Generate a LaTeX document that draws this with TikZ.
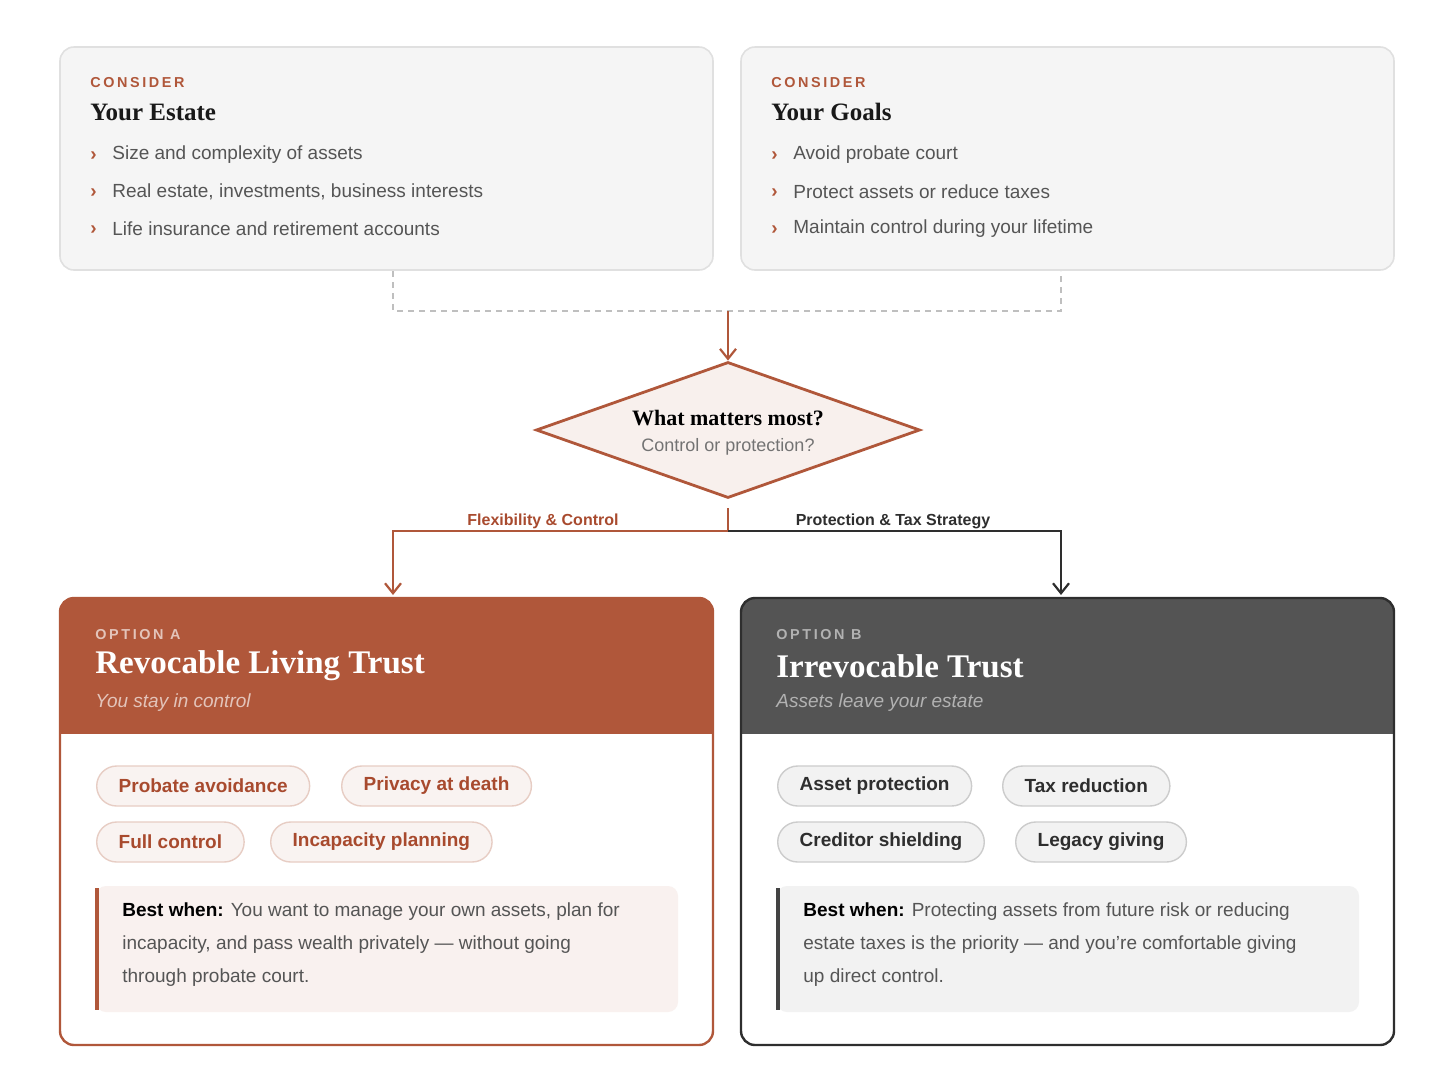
\documentclass[tikz,border=0pt]{standalone}
\usepackage{fontspec}
\setmainfont{Liberation Sans}
\newfontfamily\serifb{Liberation Serif}
\usetikzlibrary{shapes.geometric,arrows.meta}
\definecolor{rust}{HTML}{B0573A}
\definecolor{rustd}{HTML}{A84A2E}
\definecolor{dgray}{HTML}{545454}
\definecolor{ink}{HTML}{2E2E2E}
\definecolor{txt}{HTML}{555555}
\tikzset{
  x=0.5pt,y=-0.5pt,
  topbox/.style={draw=black!12,fill=black!4,line width=0.8pt,rounded corners=7pt},
  kicker/.style={anchor=west,inner sep=0,font=\fontsize{7.2}{8}\selectfont\bfseries\addfontfeatures{LetterSpace=18}},
  ttl/.style={anchor=west,inner sep=0,font=\serifb\bfseries\fontsize{12.5}{14}\selectfont,text=black!90},
  bul/.style={anchor=west,inner sep=0,font=\fontsize{9.5}{11}\selectfont,text=txt},
  pillA/.style={anchor=west,draw=rust!30,fill=rust!7,text=rustd,rounded corners=10pt,minimum height=20pt,inner xsep=11pt,font=\bfseries\fontsize{9.5}{11}\selectfont,line width=0.7pt},
  pillB/.style={anchor=west,draw=black!20,fill=black!5,text=ink,rounded corners=10pt,minimum height=20pt,inner xsep=11pt,font=\bfseries\fontsize{9.5}{11}\selectfont,line width=0.7pt},
  best/.style={anchor=north west,inner sep=0,align=left,font=\fontsize{9.5}{16.5}\selectfont,text=txt},
  lbl/.style={inner sep=0,font=\bfseries\fontsize{8}{9}\selectfont},
  arr/.style={-{Straight Barb[length=5pt,width=8pt]},line width=1.1pt},
}
\begin{document}
\begin{tikzpicture}
\useasboundingbox (0,0) rectangle (1456,1088);
% top boxes
\draw[topbox] (60,47) rectangle (713,270);
\draw[topbox] (741,47) rectangle (1394,270);
\node[kicker,text=rust] (k1) at (90,83) {CONSIDER};
\node[ttl] (t1) at (90,112) {Your Estate};
\node[bul,text=rust] (b11) at (90,156) {\bfseries ›};
\node[bul] (e1) at (112,155) {Size and complexity of assets};
\node[bul,text=rust] (b12) at (90,193) {\bfseries ›};
\node[bul] (e2) at (112,192) {Real estate, investments, business interests};
\node[bul,text=rust] (b13) at (90,230) {\bfseries ›};
\node[bul] (e3) at (112,229) {Life insurance and retirement accounts};
\node[kicker,text=rust] (k2) at (771,83) {CONSIDER};
\node[ttl] (t2) at (771,112) {Your Goals};
\node[bul,text=rust] (b21) at (771,156) {\bfseries ›};
\node[bul] (g1) at (793,155) {Avoid probate court};
\node[bul,text=rust] (b22) at (771,193) {\bfseries ›};
\node[bul] (g2) at (793,192) {Protect assets or reduce taxes};
\node[bul,text=rust] (b23) at (771,230) {\bfseries ›};
\node[bul] (g3) at (793,229) {Maintain control during your lifetime};
% dashed merge
\coordinate (dl) at (393,271);
\coordinate (dr) at (1061,271);
\coordinate (dm) at (728,311);
\draw[black!25,dashed,line width=0.9pt,dash pattern=on 3pt off 2.5pt] (dl) |- (dm) -| (dr);
% diamond
\node[diamond,draw=rust,fill=rust!9,line width=1.4pt,minimum width=192pt,minimum height=68pt,inner sep=0,aspect=2.8] (dia) at (728,430) {};
\node[inner sep=0,font=\serifb\bfseries\fontsize{11}{12}\selectfont] (q1) at (728,418) {What matters most?};
\node[inner sep=0,font=\fontsize{9}{10}\selectfont,text=black!55] (q2) at (728,447) {Control or protection?};
\draw[arr,rust] (dm) -- (dia.north);
% branches
\coordinate (bs) at (728,508);
\coordinate (bj) at (728,531);
\draw[rust,line width=1.1pt] (bs) -- (bj);
\draw[arr,rust] (bj) -| (393,595);
\draw[arr,ink] (bj) -| (1061,595);
\node[lbl,text=rustd] (lf) at (543,521) {Flexibility \& Control};
\node[lbl,text=ink] (lp) at (893,521) {Protection \& Tax Strategy};
% card A
\begin{scope}
\clip[rounded corners=7pt] (60,598) rectangle (713,1045);
\fill[white] (60,598) rectangle (713,1045);
\fill[rust] (60,598) rectangle (713,734);
\end{scope}
\draw[rust,line width=1.2pt,rounded corners=7pt] (60,598) rectangle (713,1045);
\node[kicker,text=rust!35!white] (oa) at (95,635) {OPTION A};
\node[anchor=west,inner sep=0,font=\serifb\bfseries\fontsize{16.5}{18}\selectfont,text=white] (ta) at (95,666) {Revocable Living Trust};
\node[anchor=west,inner sep=0,font=\itshape\fontsize{9.5}{11}\selectfont,text=rust!35!white] (sa) at (95,703) {You stay in control};
\node[pillA] (pa1) at (96,786) {Probate avoidance};
\node[pillA] (pa2) at (341,786) {Privacy at death};
\node[pillA] (pa3) at (96,842) {Full control};
\node[pillA] (pa4) at (270,842) {Incapacity planning};
\fill[rust!8,rounded corners=5pt] (96,886) rectangle (678,1012);
\draw[rust,line width=1.6pt] (97,888) -- (97,1010);
\node[best] (wa) at (122,902) {\textbf{\color{black}Best when:} You want to manage your own assets, plan for\\incapacity, and pass wealth privately — without going\\through probate court.};
% card B
\begin{scope}
\clip[rounded corners=7pt] (741,598) rectangle (1394,1045);
\fill[white] (741,598) rectangle (1394,1045);
\fill[dgray] (741,598) rectangle (1394,734);
\end{scope}
\draw[ink,line width=1.2pt,rounded corners=7pt] (741,598) rectangle (1394,1045);
\node[kicker,text=black!30] (ob) at (776,635) {OPTION B};
\node[anchor=west,inner sep=0,font=\serifb\bfseries\fontsize{16.5}{18}\selectfont,text=white] (tb) at (776,666) {Irrevocable Trust};
\node[anchor=west,inner sep=0,font=\itshape\fontsize{9.5}{11}\selectfont,text=black!30] (sb) at (776,703) {Assets leave your estate};
\node[pillB] (pb1) at (777,786) {Asset protection};
\node[pillB] (pb2) at (1002,786) {Tax reduction};
\node[pillB] (pb3) at (777,842) {Creditor shielding};
\node[pillB] (pb4) at (1015,842) {Legacy giving};
\fill[black!5,rounded corners=5pt] (777,886) rectangle (1359,1012);
\draw[ink!90,line width=1.6pt] (778,888) -- (778,1010);
\node[best] (wb) at (803,902) {\textbf{\color{black}Best when:} Protecting assets from future risk or reducing\\estate taxes is the priority — and you're comfortable giving\\up direct control.};
\end{tikzpicture}
\end{document}
